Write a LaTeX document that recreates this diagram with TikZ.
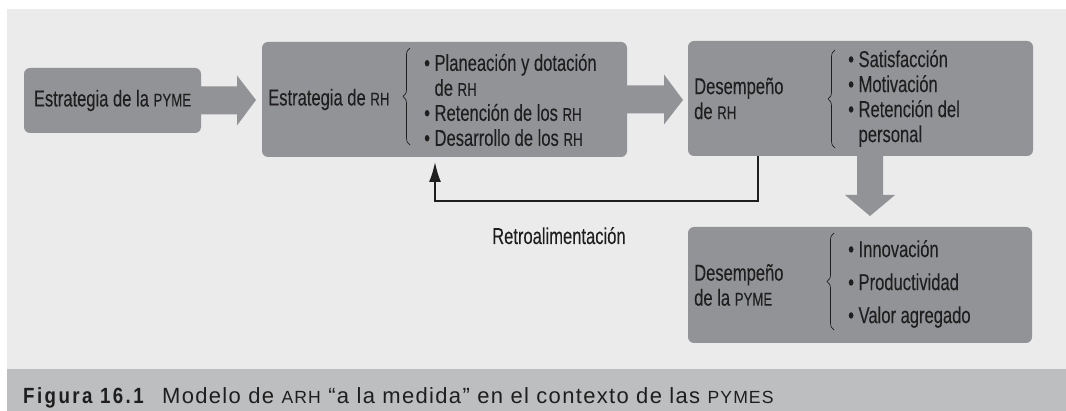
\documentclass[tikz,border=0pt]{standalone}
\usepackage{fontspec}
\setmainfont{Liberation Sans}
\newfontfamily\condfont{Liberation Sans}[FakeStretch=0.72,FakeBold=0.1]
\newfontfamily\capfont{Liberation Sans}[LetterSpace=6]
\newfontfamily\figfont{Liberation Sans}[FakeStretch=0.85,LetterSpace=11]
\usepackage{tikz}
\usetikzlibrary{arrows.meta,calc,positioning,decorations.pathreplacing}
\definecolor{boxgray}{HTML}{929396}
\definecolor{panelgray}{HTML}{EBEBEB}
\definecolor{bargray}{HTML}{BDBEC0}
\definecolor{inkgray}{HTML}{1E1E1E}
\newcommand{\sca}[1]{\scalebox{0.8}{#1}}

\begin{document}
\begin{tikzpicture}[x=1pt,y=-1pt,>=Latex,
  box/.style={fill=boxgray,rounded corners=6pt,inner sep=0pt,outer sep=0pt},
  txt/.style={font=\condfont\fontsize{23}{25}\selectfont,text=inkgray,align=left,inner sep=0pt},
  brc/.style={draw=inkgray,line width=0.7pt,decorate,decoration={brace,amplitude=7pt}},
  fb/.style={draw=inkgray,line width=1.8pt,shorten >=5pt,-{Latex[length=20pt,width=12pt]}}]
\useasboundingbox (0,0) rectangle (1066,411);
% background and caption bar
\fill[panelgray] (7,9) rectangle (1066,369);
\fill[bargray] (7,369) rectangle (1066,411);

% boxes
\node[box,txt,minimum width=177pt,minimum height=65pt] (pyme) at (112.5,100.5) {Estrategia de la \sca{PYME}};
\node[box,minimum width=365pt,minimum height=115pt] (rh) at (444.5,99.5) {};
\node[box,minimum width=345pt,minimum height=115pt] (desrh) at (860.5,98.5) {};
\node[box,minimum width=344pt,minimum height=116pt] (despyme) at (860,285) {};

% contents of the boxes
\node[txt,anchor=west] (rhname) at ([xshift=6pt]rh.west) {Estrategia de \sca{RH}};
\draw[brc] (410,145) -- (410,48);
\node[txt,anchor=west] (rhlist) at (424,100) {• Planeación y dotación\\\hphantom{•} de \sca{RH}\\• Retención de los \sca{RH}\\• Desarrollo de los \sca{RH}};

\node[txt,anchor=west] (desrhname) at ([xshift=6pt]desrh.west) {Desempeño\\de \sca{RH}};
\draw[brc] (835,148) -- (835,50);
\node[txt,anchor=west] (desrhlist) at (848,98.5) {• Satisfacción\\• Motivación\\• Retención del\\\hphantom{•} personal};

\node[txt,anchor=west] (despymename) at ([xshift=6pt]despyme.west) {Desempeño\\de la \sca{PYME}};
\draw[brc] (834,330) -- (834,233);
\node[txt,anchor=west,font=\condfont\fontsize{23}{33}\selectfont] (despymelist) at (848,284) {• Innovación\\• Productividad\\• Valor agregado};

% block arrows
\fill[boxgray] ($(pyme.east)+(-1,-14)$) -- ++(37,0) -- ++(0,-11) -- ($(rh.west)+(-6,0.5)$)
  -- ($(pyme.east)+(36,25)$) -- ++(0,-11) -- ($(pyme.east)+(-1,14)$) -- cycle;
\fill[boxgray] ($(rh.east)+(-1,-14)$) -- ++(38,0) -- ++(0,-11) -- ($(desrh.west)+(-5,1.5)$)
  -- ($(rh.east)+(37,25)$) -- ++(0,-11) -- ($(rh.east)+(-1,14)$) -- cycle;
\fill[boxgray] ($(desrh.south)+(-3.5,-1)$) -- ++(0,40) -- ++(-12,0) -- ($(despyme.north)+(10,-11)$)
  -- ($(desrh.south)+(34.5,39)$) -- ++(-12,0) -- ($(desrh.south)+(22.5,-1)$) -- cycle;

% feedback
\draw[fb] ([xshift=70pt]desrh.south west) -- ++(0,45) -| ([xshift=173pt]rh.south west);
\node[txt,anchor=base west] (retro) at (492,244) {Retroalimentación};

% caption
\node[anchor=base west,inner sep=0pt,text=inkgray,font=\figfont\bfseries\fontsize{22}{24}\selectfont] (fignum) at (23,404) {Figura 16.1};
\node[anchor=base west,inner sep=0pt,text=inkgray,font=\capfont\fontsize{22}{24}\selectfont] (figtitle) at (162,404) {Modelo de \sca{ARH} “a la medida” en el contexto de las \sca{PYMES}};
\end{tikzpicture}
\end{document}
